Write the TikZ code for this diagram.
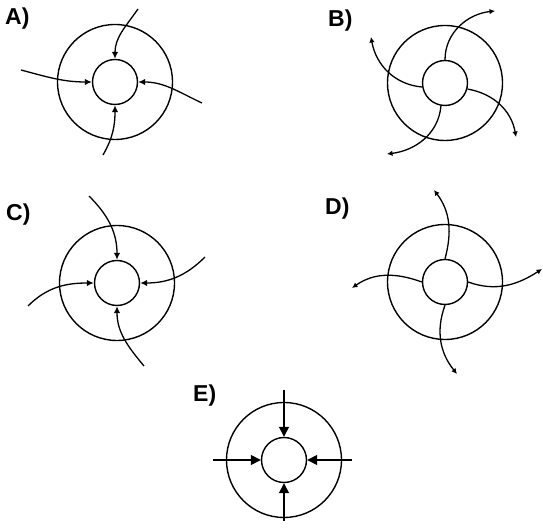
\documentclass[tikz,border=0pt]{standalone}
\usepackage{fontspec}
\setmainfont{Liberation Sans}
\usetikzlibrary{arrows.meta}

\begin{document}
\begin{tikzpicture}[x=1pt,y=1pt,
    ring/.style={draw, circle, line width=1.4pt, inner sep=0pt, minimum size=115pt},
    hole/.style={draw, circle, line width=1.4pt, inner sep=0pt, minimum size=45pt},
    inflow/.style={line width=1.3pt, -{Latex[length=7pt,width=6.5pt]}},
    outflow/.style={line width=1.3pt, -{Latex[length=5.5pt,width=5.5pt]}},
    pin/.style={line width=1.3pt, -{Triangle[length=10pt,width=10pt]}},
    lbl/.style={font=\fontsize{23}{26}\selectfont\bfseries, anchor=base west, inner sep=0pt}]
          \useasboundingbox (0,0) rectangle (543,532);

          \node[lbl] (labA) at (5,507) {A)};
          \node[lbl] (labB) at (328,505) {B)};
          \node[lbl] (labC) at (6,311) {C)};
          \node[lbl] (labD) at (325,317) {D)};
          \node[lbl] (labE) at (193,130) {E)};

          % A: curved arrows in
          \begin{scope}[shift={(115,450)}]
            \node[ring] (Aout) at (0,0) {};
            \node[hole] (Ain) at (0,0) {};
            \coordinate (At) at (23,73);
            \coordinate (Al) at (-94,12);
            \coordinate (Ar) at (87,-21);
            \coordinate (Ab) at (-12,-73);
            \draw[inflow] (At) to[out=235,in=90] (Ain.north);
            \draw[inflow] (Al) to[out=-15,in=180] (Ain.west);
            \draw[inflow] (Ar) to[out=155,in=0] (Ain.east);
            \draw[inflow] (Ab) to[out=60,in=270] (Ain.south);
          \end{scope}

          % B: curved arrows out
          \begin{scope}[shift={(445,449)}]
            \node[ring] (Bout) at (0,0) {};
            \node[hole] (Bin) at (0,0) {};
            \coordinate (Bt) at (50,72);
            \coordinate (Bl) at (-74,46);
            \coordinate (Bb) at (-58,-71);
            \coordinate (Br) at (71,-54);
            \draw[outflow] (Bin.north) to[out=90,in=186] (Bt);
            \draw[outflow] (Bin.190) to[out=175,in=-80] (Bl);
            \draw[outflow] (Bin.260) to[out=265,in=7] (Bb);
            \draw[outflow] (Bin.-15) to[out=-10,in=100] (Br);
          \end{scope}

          % C: curved arrows in, other way round
          \begin{scope}[shift={(117,249)}]
            \node[ring] (Cout) at (0,0) {};
            \node[hole] (Cin) at (0,0) {};
            \coordinate (Ct) at (-28,87);
            \coordinate (Cr) at (88,26);
            \coordinate (Cb) at (27,-83);
            \coordinate (Cl) at (-89,-23);
            \draw[inflow] (Ct) to[out=-45,in=90] (Cin.north);
            \draw[inflow] (Cr) to[out=225,in=0] (Cin.east);
            \draw[inflow] (Cb) to[out=130,in=270] (Cin.south);
            \draw[inflow] (Cl) to[out=45,in=180] (Cin.west);
          \end{scope}

          % D: wavy arrows out
          \begin{scope}[shift={(445,250)}]
            \node[ring] (Dout) at (0,0) {};
            \node[hole] (Din) at (0,0) {};
            \coordinate (Dt) at (-11,92);
            \coordinate (Dr) at (97,13);
            \coordinate (Db) at (12,-92);
            \coordinate (Dl) at (-93,-6);
            \draw[outflow] (Din.north) to[out=75,in=-53] (Dt);
            \draw[outflow] (Din.east) to[out=-20,in=213] (Dr);
            \draw[outflow] (Din.south) to[out=250,in=129] (Db);
            \draw[outflow] (Din.west) to[out=160,in=35] (Dl);
          \end{scope}

          % E: straight arrows in
          \begin{scope}[shift={(284,72)}]
            \node[ring] (Eout) at (0,0) {};
            \node[hole] (Ein) at (0,0) {};
            \foreach \a/\r/\anc in {90/70/north,180/71/west,0/68/east,270/61/south}{
              \coordinate (E\anc) at (\a:\r);
              \draw[pin] (E\anc) -- (Ein.\anc);
            }
          \end{scope}
        \end{tikzpicture}
\end{document}
